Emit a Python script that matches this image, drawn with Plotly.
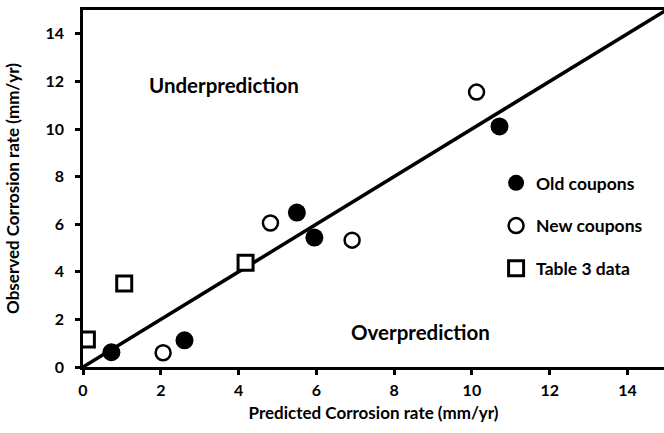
import plotly.graph_objects as go

# Corrosion rate data (mm/yr): predicted vs observed
old_pred = [0.73, 2.61, 5.50, 5.95, 10.71]
old_obs = [0.62, 1.12, 6.49, 5.44, 10.11]

new_pred = [2.06, 4.82, 6.92, 10.12]
new_obs = [0.60, 6.05, 5.33, 11.55]

tab3_pred = [0.10, 1.06, 4.18]
tab3_obs = [1.16, 3.51, 4.38]

# 1:1 reference line
line_x = [0, 15]
line_y = [0, 15]

tick_vals = [0, 2, 4, 6, 8, 10, 12, 14]

FONT = "Lato"

fig = go.Figure()

fig.add_trace(go.Scatter(
    x=line_x, y=line_y, mode="lines",
    line=dict(color="black", width=3.5),
    showlegend=False, hoverinfo="skip",
))

fig.add_trace(go.Scatter(
    x=old_pred, y=old_obs, mode="markers", name="Old coupons",
    marker=dict(symbol="circle", size=18, color="black",
                line=dict(color="black", width=0)),
    legendgroup="a",
))
fig.add_trace(go.Scatter(
    x=new_pred, y=new_obs, mode="markers", name="New coupons",
    marker=dict(symbol="circle", size=15, color="white",
                line=dict(color="black", width=2.5)),
    legendgroup="b",
))
fig.add_trace(go.Scatter(
    x=tab3_pred, y=tab3_obs, mode="markers", name="Table 3 data",
    marker=dict(symbol="square", size=15, color="white",
                line=dict(color="black", width=3)),
    legendgroup="c",
))

fig.add_annotation(
    x=3.63, y=11.85, xref="x", yref="y", text="Underprediction",
    showarrow=False, font=dict(family=FONT, size=20.5, color="black", weight="bold"),
)
fig.add_annotation(
    x=8.67, y=1.47, xref="x", yref="y", text="Overprediction",
    showarrow=False, font=dict(family=FONT, size=20.5, color="black", weight="bold"),
)

axis_common = dict(
    showgrid=False, zeroline=False,
    showline=True, linecolor="black", linewidth=2.7,
    ticks="outside", ticklen=5, tickwidth=2.5, tickcolor="black",
    tickvals=tick_vals,
    tickfont=dict(family=FONT, size=16, color="black", weight="bold"),
)

fig.update_layout(
    width=664, height=433,
    margin=dict(l=83, r=0, t=10, b=66),
    plot_bgcolor="white", paper_bgcolor="white",
    xaxis=dict(range=[0, 14.94], mirror=True, ticklabelstandoff=2,
               title=dict(text="Predicted Corrosion rate (mm/yr)", standoff=10,
                          font=dict(family=FONT, size=17, color="black", weight="bold")),
               **axis_common),
    yaxis=dict(range=[0, 15], ticklabelstandoff=8,
               title=dict(text="Observed Corrosion rate (mm/yr)", standoff=22,
                          font=dict(family=FONT, size=17, color="black", weight="bold")),
               **axis_common),
    legend=dict(
        x=0.711, y=0.395, xanchor="left", yanchor="middle",
        bgcolor="rgba(0,0,0,0)", borderwidth=0,
        tracegroupgap=17, itemsizing="trace",
        font=dict(family=FONT, size=17.5, color="black", weight="bold"),
    ),
)

fig.write_html("out.html")
